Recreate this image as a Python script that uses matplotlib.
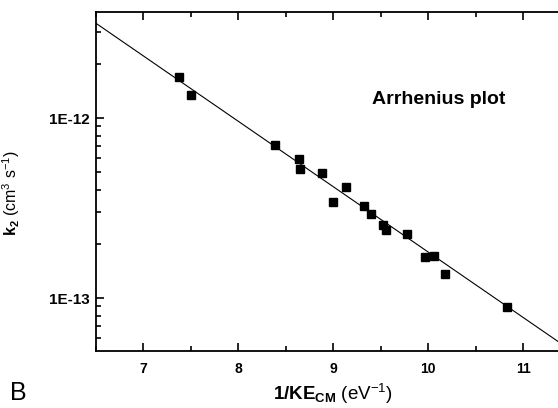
import math
import matplotlib
matplotlib.use("Agg")
import matplotlib.pyplot as plt
from matplotlib.ticker import LogLocator, FixedLocator, MultipleLocator, FuncFormatter

plt.rcParams['font.family'] = ['Liberation Sans', 'DejaVu Sans']
plt.rcParams['mathtext.fontset'] = 'custom'
plt.rcParams['mathtext.rm'] = 'Liberation Sans'
plt.rcParams['mathtext.bf'] = 'Liberation Sans:bold'
plt.rcParams['mathtext.it'] = 'Liberation Sans:italic'

# measured points: 1/KE_CM (eV^-1) vs k2 (cm^3 s^-1)
inv_ke = [7.38, 7.50, 8.39, 8.64, 8.65, 8.88, 9.13, 9.00, 9.32,
          9.40, 9.52, 9.56, 9.78, 9.97, 10.06, 10.18, 10.83]
k2 = [1.69e-12, 1.35e-12, 7.08e-13, 5.92e-13, 5.22e-13, 4.95e-13, 4.15e-13,
      3.40e-13, 3.24e-13, 2.94e-13, 2.54e-13, 2.38e-13, 2.26e-13, 1.70e-13,
      1.72e-13, 1.36e-13, 8.95e-14]

# fitted Arrhenius line (end points)
fit_x = [6.5, 11.5]
fit_y = [3.37e-12, 5.13e-14]

fig = plt.figure(figsize=(5.58, 4.08), dpi=100)
ax = fig.add_axes([0.1715, 0.1404, 0.8514, 0.831])

ax.plot(fit_x, fit_y, color='black', lw=0.8)
ax.plot(inv_ke, k2, linestyle='none', marker='s', markersize=5.3, color='black')

ax.set_yscale('log')
ax.set_xlim(6.5, 11.5)
ax.set_ylim(5.1e-14, 3.9e-12)

ax.xaxis.set_major_locator(MultipleLocator(1))
ax.xaxis.set_minor_locator(MultipleLocator(0.5))
ax.yaxis.set_major_locator(FixedLocator([1e-13, 1e-12]))
ax.yaxis.set_minor_locator(LogLocator(base=10, subs=range(2, 10)))
ax.yaxis.set_minor_formatter(FuncFormatter(lambda v, p: ''))
ax.yaxis.set_major_formatter(FuncFormatter(lambda v, p: '1E%d' % round(math.log10(v))))

ax.tick_params(which='both', direction='in', top=True, right=False, width=1.2)
ax.tick_params(which='major', length=6)
ax.tick_params(which='minor', length=3.5)
ax.tick_params(axis='x', labelsize=10, pad=8)
ax.tick_params(axis='y', labelsize=11, pad=4)
for lab in ax.get_xticklabels() + ax.get_yticklabels():
    lab.set_fontweight('bold')

for s in ['left', 'bottom', 'top']:
    ax.spines[s].set_linewidth(1.3)
ax.spines['right'].set_visible(False)

ax.set_xlabel(r'$\mathbf{1/KE_{CM}}$ (eV$^{-1}$)', fontsize=13.5)
ax.xaxis.label.set_va('baseline')
ax.xaxis.set_label_coords(0.5, -0.145)
ax.set_ylabel(r'$\mathbf{k_2}$ (cm$^3$ s$^{-1}$)', fontsize=11.5)
ax.yaxis.set_label_coords(-0.155, 0.465)

ax.text(0.581, 0.728, 'Arrhenius plot', transform=ax.transAxes,
        fontsize=14, fontweight='bold', ha='left', va='baseline')

fig.text(0.018, 0.008, 'B', fontsize=18, ha='left', va='bottom')

fig.savefig('out.png', dpi=100)
